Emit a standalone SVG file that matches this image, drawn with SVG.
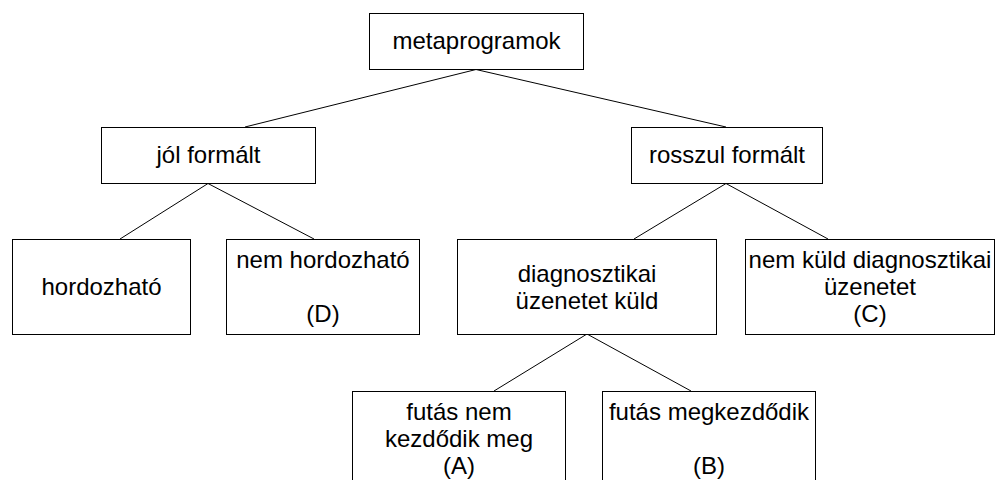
<svg xmlns="http://www.w3.org/2000/svg" width="998" height="480" viewBox="0 0 998 480">
<style>
rect{fill:#fff;stroke:#000;stroke-width:1}
text{font-family:"Liberation Sans",Arial,sans-serif;font-size:24px;fill:#000;text-anchor:middle}
.c line{stroke:#000;stroke-width:1}
</style>
<rect x="0" y="0" width="998" height="480" style="stroke:none"/>
<g class="c" id="connectors">
<line x1="476" y1="69.5" x2="245" y2="127"/>
<line x1="476" y1="69.5" x2="726" y2="127"/>
<line x1="208" y1="183.5" x2="120" y2="239"/>
<line x1="208" y1="183.5" x2="314" y2="239"/>
<line x1="726" y1="183.5" x2="634" y2="239"/>
<line x1="726" y1="183.5" x2="828" y2="239"/>
<line x1="587" y1="334" x2="494" y2="391"/>
<line x1="587" y1="334" x2="691" y2="391"/>
</g>
<g id="metaprogramok"><rect x="369.5" y="13.5" width="214" height="56"/><text x="476.5" y="49">metaprogramok</text></g>
<g id="jol"><rect x="101.5" y="127.5" width="214" height="56"/><text x="208.5" y="163">jól formált</text></g>
<g id="rosszul"><rect x="631.5" y="127.5" width="191" height="56"/><text x="727" y="163">rosszul formált</text></g>
<g id="hordozhato"><rect x="12.5" y="239.5" width="178" height="95"/><text x="101.5" y="295">hordozható</text></g>
<g id="nemhordozhato"><rect x="226.5" y="239.5" width="193" height="95"/><text x="323" y="268">nem hordozható</text><text x="323" y="322">(D)</text></g>
<g id="diag"><rect x="457.5" y="239.5" width="259" height="95"/><text x="587" y="282">diagnosztikai</text><text x="587" y="309">üzenetet küld</text></g>
<g id="nemkuld"><rect x="745.5" y="239.5" width="249" height="95"/><text x="870" y="268">nem küld diagnosztikai</text><text x="870" y="295">üzenetet</text><text x="870" y="322">(C)</text></g>
<g id="futasnem"><rect x="352.5" y="391.5" width="213" height="100"/><text x="459" y="420">futás nem</text><text x="459" y="447">kezdődik meg</text><text x="459" y="474">(A)</text></g>
<g id="futasmeg"><rect x="602.5" y="391.5" width="213" height="100"/><text x="709" y="420">futás megkezdődik</text><text x="709" y="474">(B)</text></g>
</svg>
